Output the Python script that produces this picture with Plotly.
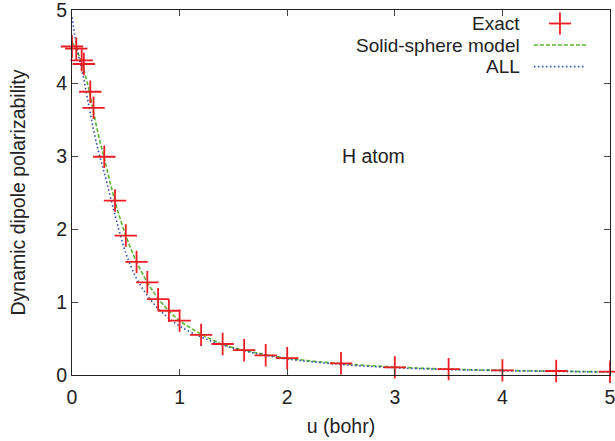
import plotly.graph_objects as go

# Exact (crosses)
exact_u = [0.0, 0.04, 0.09, 0.11, 0.17, 0.2, 0.3, 0.4, 0.5, 0.6, 0.7, 0.8, 0.9, 1.0,
           1.2, 1.4, 1.6, 1.8, 2.0, 2.5, 3.0, 3.5, 4.0, 4.5, 5.0]
exact_alpha = [4.50, 4.47, 4.31, 4.26, 3.88, 3.66, 2.99, 2.39, 1.91, 1.55, 1.27, 1.04, 0.88, 0.745,
               0.55, 0.425, 0.34, 0.27, 0.23, 0.16, 0.105, 0.08, 0.064, 0.055, 0.045]

# Model curves
curve_u = [0.0, 0.05, 0.1, 0.15, 0.2, 0.25, 0.3, 0.4, 0.5, 0.6, 0.7, 0.8, 0.9, 1.0,
           1.2, 1.4, 1.6, 1.8, 2.0, 2.5, 3.0, 3.5, 4.0, 4.5, 5.0]
sphere_alpha = [4.56, 4.43, 4.22, 3.96, 3.60, 3.26, 2.97, 2.38, 1.91, 1.55, 1.27, 1.05, 0.88, 0.745,
                0.56, 0.42, 0.34, 0.28, 0.23, 0.155, 0.11, 0.08, 0.063, 0.052, 0.043]
all_alpha = [4.90, 4.45, 4.12, 3.74, 3.36, 3.04, 2.77, 2.19, 1.67, 1.32, 1.09, 0.91, 0.78, 0.67,
             0.52, 0.41, 0.33, 0.27, 0.22, 0.145, 0.10, 0.075, 0.06, 0.05, 0.04]

legend_labels = ["Exact", "Solid-sphere model", "ALL"]
x_ticks = [0, 1, 2, 3, 4, 5]
y_ticks = [0, 1, 2, 3, 4, 5]

RED = "#ec1c24"
GREEN = "#5ab432"
BLUE = "#2f4fae"
FONT = "Liberation Sans, Arial, sans-serif"
FS = 19.5
LFS = 19

fig = go.Figure()
fig.add_trace(go.Scatter(x=curve_u, y=sphere_alpha, mode="lines", line_shape="spline",
                         line=dict(color=GREEN, width=1.6, dash="4px,2px"), showlegend=False))
fig.add_trace(go.Scatter(x=curve_u, y=all_alpha, mode="lines", line_shape="spline",
                         line=dict(color=BLUE, width=1.6, dash="1.5px,2.5px"), showlegend=False))
fig.add_trace(go.Scatter(x=exact_u, y=exact_alpha, mode="markers",
                         marker=dict(symbol="cross-thin", size=16,
                                     line=dict(color=RED, width=1.8)),
                         showlegend=False, cliponaxis=False))

# manual gnuplot-style legend (text right-aligned, sample on right)
text_x = 0.8357
leg_y = [0.963, 0.904, 0.845]
for lbl, yy in zip(legend_labels, leg_y):
    fig.add_annotation(xref="paper", yref="paper", x=text_x, y=yy, text=lbl, showarrow=False,
                       xanchor="right", yanchor="middle",
                       font=dict(family=FONT, size=LFS, color="#222"))
x0, x1 = 0.8586, 0.9553
xc = 0.907
fig.add_shape(type="line", xref="paper", yref="paper", x0=xc - 0.0205, x1=xc + 0.0205,
              y0=leg_y[0], y1=leg_y[0], line=dict(color=RED, width=1.8))
fig.add_shape(type="line", xref="paper", yref="paper", x0=xc, x1=xc,
              y0=leg_y[0] - 0.0301, y1=leg_y[0] + 0.0301, line=dict(color=RED, width=1.8))
fig.add_shape(type="line", xref="paper", yref="paper", x0=x0, x1=x1,
              y0=leg_y[1], y1=leg_y[1], line=dict(color=GREEN, width=1.6, dash="4px,2px"))
fig.add_shape(type="line", xref="paper", yref="paper", x0=x0, x1=x1,
              y0=leg_y[2], y1=leg_y[2], line=dict(color=BLUE, width=1.6, dash="1.5px,2.5px"))

fig.add_annotation(x=2.8, y=3.0, xref="x", yref="y", text="H atom", showarrow=False,
                   xanchor="center", yanchor="middle", font=dict(family=FONT, size=FS, color="#222"))

axis_common = dict(showline=True, linecolor="#222", linewidth=1.2, mirror="ticks",
                   ticks="inside", ticklen=6, tickcolor="#444", tickwidth=1,
                   showgrid=False, zeroline=False, ticklabeloverflow="allow",
                   tickfont=dict(family=FONT, size=FS, color="#222"))
fig.update_xaxes(range=[0, 5], tickvals=x_ticks, ticktext=[str(t) for t in x_ticks],
                 ticklabelstandoff=4,
                 title=dict(text="u (bohr)", font=dict(family=FONT, size=FS, color="#222"), standoff=12),
                 **axis_common)
fig.update_yaxes(range=[0, 5], tickvals=y_ticks, ticktext=[str(t) for t in y_ticks],
                 title=dict(text="Dynamic dipole polarizability", font=dict(family=FONT, size=FS, color="#222"),
                            standoff=25),
                 **axis_common)
fig.update_layout(width=615, height=441, margin=dict(l=72, r=5, t=10, b=66, autoexpand=False),
                  paper_bgcolor="white", plot_bgcolor="white", showlegend=False)
fig.write_html("out.html")
